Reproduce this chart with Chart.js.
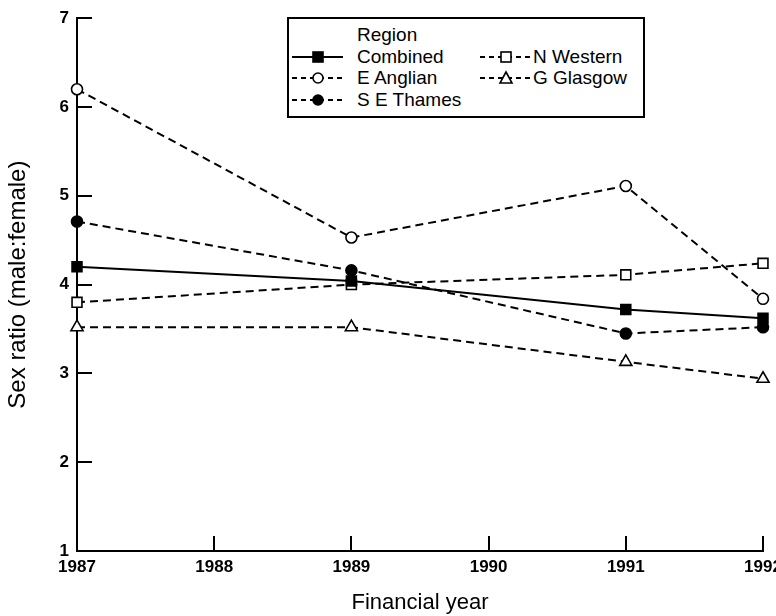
<!DOCTYPE html>
<html lang="en">
<head>
    <meta charset="UTF-8">
    <title>Sex ratio by region</title>
    <script src="https://cdn.jsdelivr.net/npm/chart.js"></script>
    <style>
        html, body { margin: 0; padding: 0; background: #fff; overflow: hidden; }
        .wrap { position: relative; width: 800px; height: 616px; }
        .legend {
            position: absolute; left: 287px; top: 17px; width: 354px; height: 97px;
            border: 2px solid #000; background: #fff;
            font-family: 'Liberation Sans', Arial, Helvetica, sans-serif; font-size: 19px; color: #000;
        }
        .legend .head { position: absolute; left: 68px; top: 5px; line-height: 22px; }
        .legend svg { position: absolute; }
        .legend span { position: absolute; line-height: 22px; white-space: nowrap; }
    </style>
</head>
<body>
    <div class="wrap">
        <canvas id="ratioChart" width="800" height="616"></canvas>
        <div class="legend" id="legend"><div class="head">Region</div></div>
    </div>

    <script>
        // values
        const years = [1987, 1989, 1991, 1992];
        const regions = ['Combined', 'E Anglian', 'S E Thames', 'N Western', 'G Glasgow'];
        const combined = [4.2, 4.04, 3.72, 3.62];
        const eAnglian = [6.2, 4.53, 5.11, 3.84];
        const seThames = [4.71, 4.16, 3.45, 3.52];
        const nWestern = [3.8, 4.0, 4.11, 4.24];
        const gGlasgow = [3.52, 3.52, 3.13, 2.94];
        const yTicks = [1, 2, 3, 4, 5, 6, 7];
        const xTicks = [1987, 1988, 1989, 1990, 1991, 1992];

        Chart.defaults.font.family = "'Liberation Sans', Arial, Helvetica, sans-serif";
        Chart.defaults.color = '#000';

        const dash = [8, 5];
        function series(label, values, style, filled, radius, dashed) {
            return {
                label: label,
                data: values.map((v, i) => ({ x: years[i], y: v })),
                borderColor: '#000',
                borderWidth: 2,
                borderDash: dashed ? dash : [],
                pointStyle: style,
                pointRadius: radius,
                pointHoverRadius: radius,
                pointBorderWidth: 1.6,
                pointBorderColor: '#000',
                pointBackgroundColor: filled ? '#000' : '#fff',
                tension: 0,
                clip: false
            };
        }

        const datasets = [
            series(regions[0], combined, 'rect', true, 7, false),
            series(regions[1], eAnglian, 'circle', false, 5.5, true),
            series(regions[2], seThames, 'circle', true, 5.5, true),
            series(regions[3], nWestern, 'rect', false, 7, true),
            series(regions[4], gGlasgow, 'triangle', false, 7, true)
        ];

        // inward tick marks on both axes
        const innerTicks = {
            id: 'innerTicks',
            beforeDatasetsDraw(chart) {
                const ctx = chart.ctx;
                const area = chart.chartArea;
                const xs = chart.scales.x, ys = chart.scales.y;
                ctx.save();
                ctx.strokeStyle = '#000';
                ctx.lineWidth = 2;
                ctx.beginPath();
                yTicks.forEach(v => {
                    const py = Math.round(ys.getPixelForValue(v));
                    ctx.moveTo(area.left, py);
                    ctx.lineTo(area.left + 15, py);
                });
                xTicks.forEach(v => {
                    const px = Math.round(xs.getPixelForValue(v));
                    ctx.moveTo(px, area.bottom);
                    ctx.lineTo(px, area.bottom - 15);
                });
                ctx.stroke();
                ctx.restore();
            }
        };

        new Chart(document.getElementById('ratioChart'), {
            type: 'line',
            data: { datasets: datasets },
            options: {
                responsive: false,
                animation: false,
                layout: { padding: { top: 15, right: 37, bottom: 0, left: 0 } },
                plugins: { legend: { display: false }, tooltip: { enabled: false } },
                scales: {
                    x: {
                        type: 'linear',
                        min: 1987,
                        max: 1992,
                        grid: { display: false, drawTicks: false },
                        border: { display: true, color: '#000', width: 2 },
                        ticks: {
                            stepSize: 1,
                            padding: 6,
                            maxRotation: 0,
                            font: { size: 17, weight: 'bold' },
                            callback: v => String(v)
                        },
                        title: {
                            display: true,
                            text: 'Financial year',
                            font: { size: 22 },
                            padding: { top: 0, bottom: 0 }
                        },
                        afterFit: s => { s.height = 65; }
                    },
                    y: {
                        min: 1,
                        max: 7,
                        grid: { display: false, drawTicks: false },
                        border: { display: true, color: '#000', width: 2 },
                        ticks: {
                            stepSize: 1,
                            padding: 8,
                            font: { size: 17, weight: 'bold' }
                        },
                        title: {
                            display: true,
                            text: 'Sex ratio (male:female)',
                            font: { size: 24 },
                            padding: { top: 4, bottom: 0 }
                        },
                        afterFit: s => { s.width = 77; }
                    }
                }
            },
            plugins: [innerTicks]
        });

        // legend built from the datasets: [sample x, text x, row centre y] inside the box
        const legendSampleX = [3, 3, 3, 191, 191];
        const legendTextX = [68, 68, 68, 244, 244];
        const legendRowY = [38, 59, 81, 38, 59];
        const legend = document.getElementById('legend');
        datasets.forEach((ds, i) => {
            const svg = document.createElementNS('http://www.w3.org/2000/svg', 'svg');
            svg.setAttribute('width', '52');
            svg.setAttribute('height', '16');
            svg.style.left = legendSampleX[i] + 'px';
            svg.style.top = (legendRowY[i] - 8) + 'px';
            const dashAttr = ds.borderDash.length ? 'stroke-dasharray="5 4"' : '';
            const fill = ds.pointBackgroundColor;
            let marker;
            if (ds.pointStyle === 'circle') {
                marker = `<circle cx="26" cy="8" r="5" fill="${fill}" stroke="#000" stroke-width="1.6"/>`;
            } else if (ds.pointStyle === 'rect') {
                marker = `<rect x="21" y="3" width="10" height="10" fill="${fill}" stroke="#000" stroke-width="1.6"/>`;
            } else {
                marker = `<polygon points="26,2 32,13 20,13" fill="${fill}" stroke="#000" stroke-width="1.6"/>`;
            }
            svg.innerHTML = `<line x1="0" y1="8" x2="51" y2="8" stroke="#000" stroke-width="2" ${dashAttr}/>${marker}`;
            legend.appendChild(svg);
            const span = document.createElement('span');
            span.textContent = ds.label;
            span.style.left = legendTextX[i] + 'px';
            span.style.top = (legendRowY[i] - 11) + 'px';
            legend.appendChild(span);
        });
    </script>
</body>
</html>
